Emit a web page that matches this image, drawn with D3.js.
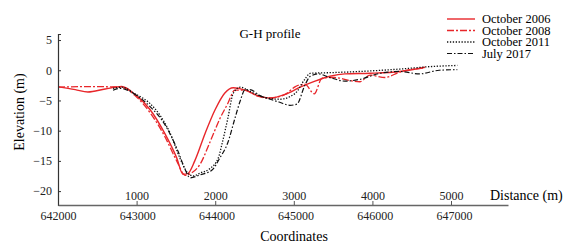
<!DOCTYPE html>
<html>
<head>
<meta charset="utf-8">
<script src="https://cdn.jsdelivr.net/npm/d3@7"></script>
<style>
  body { margin: 0; background: #fff; }
  svg text { font-family: "Liberation Serif", "Times New Roman", "DejaVu Serif", serif; }
</style>
</head>
<body>
<svg id="chart" width="583" height="250"></svg>
<script>
// data: [distance (m), elevation (m)]
const oct2006 = [[0,-2.7],[220,-3.2],[380,-3.6],[600,-3.1],[810,-2.7],[980,-4.0],[1170,-6.5],[1360,-10.5],[1510,-14.5],[1590,-17.2],[1650,-17.1],[1740,-15.0],[1870,-10.5],[2000,-6.5],[2120,-3.8],[2230,-2.9],[2380,-3.3],[2540,-4.2],[2700,-4.6],[2890,-4.0],[3080,-2.8],[3270,-1.8],[3460,-1.0],[3650,-0.6],[3970,-0.5],[4350,-0.2],[4670,0.5]]
const oct2008 = [[0,-2.8],[380,-2.7],[810,-2.8],[980,-4.2],[1170,-7.0],[1360,-11.0],[1510,-15.0],[1620,-17.4],[1700,-17.0],[1810,-15.5],[1930,-12.0],[2060,-8.0],[2160,-5.5],[2250,-3.3],[2380,-3.3],[2540,-4.3],[2700,-4.6],[2890,-4.0],[3020,-2.7],[3140,-2.3],[3260,-3.9],[3360,-1.3],[3520,-1.2],[3710,-1.7],[3840,-1.9],[3970,-0.8],[4160,-1.2],[4350,-0.3],[4670,0.4]]
const oct2011 = [[700,-3.0],[810,-2.8],[980,-3.9],[1170,-5.5],[1300,-7.5],[1430,-10.5],[1550,-14.5],[1650,-17.0],[1720,-17.5],[1810,-17.0],[1930,-16.3],[2040,-14.5],[2090,-12.0],[2160,-8.0],[2230,-3.8],[2320,-2.8],[2440,-3.5],[2630,-4.5],[2820,-4.8],[3020,-3.8],[3140,-1.5],[3210,-0.5],[3460,-0.4],[3840,-0.2],[4350,0.2],[4730,0.6],[5080,0.8]]
const jul2017 = [[700,-3.3],[790,-3.0],[980,-4.0],[1170,-6.0],[1360,-9.0],[1530,-13.5],[1620,-16.5],[1680,-17.8],[1810,-17.3],[1960,-16.5],[2060,-14.5],[2160,-12.0],[2250,-8.0],[2320,-5.0],[2380,-3.2],[2440,-3.2],[2570,-4.2],[2700,-4.8],[2820,-5.3],[2950,-5.8],[3040,-5.6],[3140,-2.5],[3210,-1.0],[3310,-0.6],[3460,-1.2],[3650,-1.8],[3840,-1.5],[4100,-0.5],[4350,-0.2],[4600,-0.6],[4850,0.0],[5080,0.1]]

const seriesNames = ['October 2006', 'October 2008', 'October 2011', 'July 2017']
const seriesData = [oct2006, oct2008, oct2011, jul2017]

const distTicks = [1000, 2000, 3000, 4000, 5000]
const coordTicks = [642000, 643000, 644000, 645000, 646000, 647000]
const elevTicks = [5, 0, -5, -10, -15, -20]

const colors = ['#e8262a', '#e8262a', '#111', '#111']
const dashes = [null, '7,2,2,2', '1.3,1.6', '5,2,1.5,2']
const widths = [1.4, 1.3, 1.3, 1.2]
const serif = '"Liberation Serif", "Times New Roman", serif'

const svg = d3.select('#chart')

// scales //
const x = d3.scaleLinear().domain([0, 5725]).range([58, 508])
const xCoord = d3.scaleLinear().domain([642000, 647000]).range([58, 454])
const y = d3.scaleLinear().domain([-22.3, 6.0]).range([205, 34])

// lines //
const line = d3.line()
    .x(d => x(d[0]))
    .y(d => y(d[1]))
    .curve(d3.curveMonotoneX)

seriesData.forEach((s, i) => {
    svg.append('path')
        .attr('d', line(s))
        .attr('fill', 'none')
        .attr('stroke', colors[i])
        .attr('stroke-width', widths[i])
        .attr('stroke-dasharray', dashes[i])
})

// Y axis //
const yAxis = svg.append('g')
    .attr('transform', 'translate(58,0)')
    .call(d3.axisRight(y).tickValues(elevTicks).tickSize(3).tickFormat(d3.format('d')))
    .attr('font-family', serif)
yAxis.select('.domain').attr('stroke', '#333').attr('stroke-width', 1.2)
yAxis.selectAll('.tick line').attr('stroke', '#333')
yAxis.selectAll('.tick text')
    .attr('x', -6)
    .attr('text-anchor', 'end')
    .attr('font-size', 12)
    .attr('fill', '#222')

// distance axis (ticks up, labels above the line) //
const xAxis = svg.append('g')
    .attr('transform', 'translate(0,205)')
    .call(d3.axisTop(x).tickValues(distTicks).tickSize(4).tickSizeOuter(0).tickFormat(d3.format('d')))
    .attr('font-family', serif)
xAxis.select('.domain').attr('stroke', '#666').attr('stroke-width', 1.5)
xAxis.selectAll('.tick line').attr('stroke', '#555')
xAxis.selectAll('.tick text')
    .attr('y', -5)
    .attr('dy', 0)
    .attr('font-size', 12)
    .attr('fill', '#222')

// coordinates labels below //
const cAxis = svg.append('g')
    .attr('transform', 'translate(0,205)')
    .call(d3.axisBottom(xCoord).tickValues(coordTicks).tickSize(0).tickFormat(d3.format('d')))
    .attr('font-family', serif)
cAxis.select('.domain').remove()
cAxis.selectAll('.tick text')
    .attr('y', 6)
    .attr('font-size', 12)
    .attr('fill', '#222')

// axis titles //
svg.append('text')
    .attr('x', 294).attr('y', 241)
    .attr('text-anchor', 'middle')
    .attr('font-size', 14)
    .text('Coordinates')

svg.append('text')
    .attr('x', 490).attr('y', 200)
    .attr('font-size', 14)
    .text('Distance (m)')

svg.append('text')
    .attr('transform', 'translate(24,112) rotate(-90)')
    .attr('text-anchor', 'middle')
    .attr('font-size', 14)
    .text('Elevation (m)')

svg.append('text')
    .attr('x', 270).attr('y', 38)
    .attr('text-anchor', 'middle')
    .attr('font-size', 13)
    .text('G-H profile')

// legend //
const legend = svg.append('g').attr('transform', 'translate(447,19)')
seriesNames.forEach((name, i) => {
    const g = legend.append('g').attr('transform', `translate(0,${i * 11.5})`)
    g.append('line')
        .attr('x1', 0).attr('x2', 28)
        .attr('stroke', colors[i])
        .attr('stroke-width', widths[i])
        .attr('stroke-dasharray', dashes[i])
    g.append('text')
        .attr('x', 35).attr('y', 4)
        .attr('font-size', 12.5)
        .text(name)
})
</script>
</body>
</html>
